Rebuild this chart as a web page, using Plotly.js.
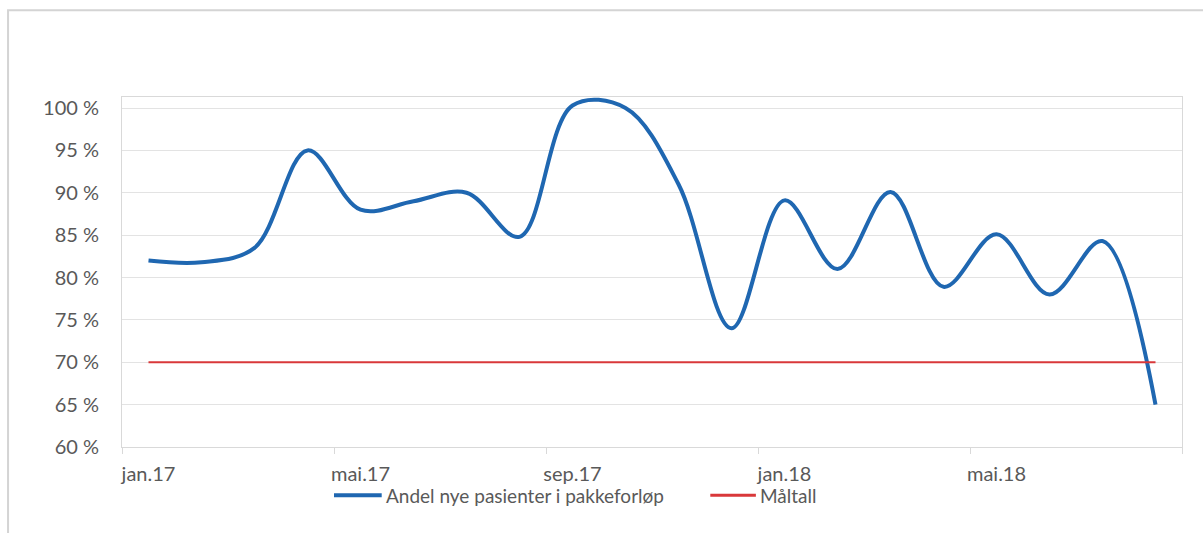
<!DOCTYPE html>
<html>
<head>
<meta charset="utf-8">
<script src="https://cdn.plot.ly/plotly-3.0.1.min.js"></script>
<style>
  html, body { margin: 0; padding: 0; background: #ffffff; }
  #chart { width: 1203px; height: 533px; }
</style>
</head>
<body>
<div id="chart"></div>
<script>
// Months from jan.17 to aug.18
const months = [
  "jan.17", "feb.17", "mar.17", "apr.17", "mai.17", "jun.17", "jul.17", "aug.17",
  "sep.17", "okt.17", "nov.17", "des.17", "jan.18", "feb.18", "mar.18", "apr.18",
  "mai.18", "jun.18", "jul.18", "aug.18"
];

// Share of new patients in cancer patient pathways (%)
const andelPakkeforlop = [
  82, 81.8, 83.5, 95, 88, 89, 90, 84.8,
  100.3, 100, 91, 74, 89.1, 81, 90.1, 78.9,
  85.1, 78, 84.3, 65
];

// Target level (%)
const maltall = [
  70, 70, 70, 70, 70, 70, 70, 70, 70, 70,
  70, 70, 70, 70, 70, 70, 70, 70, 70, 70
];

const yTicks = [60, 65, 70, 75, 80, 85, 90, 95, 100];
const yTickText = yTicks.map(v => v + " %");

const seriesNames = ["Andel nye pasienter i pakkeforløp", "Måltall"];
const seriesColors = ["#1f67b1", "#d9383a"];
const seriesWidths = [4, 2];

const font = "Lato, 'Open Sans', sans-serif";
const textColor = "#595959";
const gridColor = "#e3e3e3";
const axisColor = "#d9d9d9";

const traces = [
  {
    x: months,
    y: andelPakkeforlop,
    type: "scatter",
    mode: "lines",
    name: seriesNames[0],
    line: { color: seriesColors[0], width: seriesWidths[0], shape: "spline", smoothing: 1 }
  },
  {
    x: months,
    y: maltall,
    type: "scatter",
    mode: "lines",
    name: seriesNames[1],
    line: { color: seriesColors[1], width: seriesWidths[1] }
  }
];

// Legend drawn below the plot: a line sample followed by the series name
const legendY = -0.138;
const legendItems = [
  { x0: 0.2, len: 0.045, width: 4 },
  { x0: 0.555, len: 0.043, width: 3 }
];
const legendShapes = legendItems.map((it, i) => ({
  type: "line",
  xref: "paper",
  yref: "paper",
  x0: it.x0,
  x1: it.x0 + it.len,
  y0: legendY,
  y1: legendY,
  line: { color: seriesColors[i], width: it.width }
}));
const legendLabels = legendItems.map((it, i) => ({
  xref: "paper",
  yref: "paper",
  x: it.x0 + it.len + 0.002,
  y: legendY,
  xanchor: "left",
  yanchor: "middle",
  showarrow: false,
  text: seriesNames[i],
  font: { family: font, size: 19, color: textColor }
}));

const layout = {
  width: 1203,
  height: 533,
  paper_bgcolor: "#ffffff",
  plot_bgcolor: "#ffffff",
  margin: { l: 122, r: 21, t: 97, b: 86 },
  font: { family: font, size: 18, color: textColor },
  showlegend: false,
  xaxis: {
    type: "category",
    range: [-0.5, 19.5],
    tickmode: "linear",
    tick0: 0,
    dtick: 4,
    tickangle: 0,
    tickson: "boundaries",
    ticks: "outside",
    ticklen: 6,
    tickcolor: axisColor,
    showgrid: false,
    showline: true,
    linecolor: axisColor,
    linewidth: 1,
    mirror: true,
    zeroline: false,
    ticklabelstandoff: 9,
    tickfont: { family: font, size: 20, color: textColor },
    fixedrange: true
  },
  yaxis: {
    range: [60, 101.3],
    tickmode: "array",
    tickvals: yTicks,
    ticktext: yTickText,
    showgrid: true,
    gridcolor: gridColor,
    gridwidth: 1,
    showline: true,
    linecolor: axisColor,
    linewidth: 1,
    mirror: true,
    zeroline: false,
    ticks: "",
    ticklabelstandoff: 18,
    tickfont: { family: font, size: 20, color: textColor },
    fixedrange: true
  },
  annotations: legendLabels,
  shapes: [
    {
      type: "rect",
      xref: "paper",
      yref: "paper",
      x0: -0.1075,
      x1: 1.5,
      y0: -1,
      y1: 1.2477,
      line: { color: "#d4d4d4", width: 2 },
      fillcolor: "rgba(0,0,0,0)",
      layer: "below"
    }
  ].concat(legendShapes)
};

Plotly.newPlot("chart", traces, layout, { displayModeBar: false, staticPlot: true });
</script>
</body>
</html>
